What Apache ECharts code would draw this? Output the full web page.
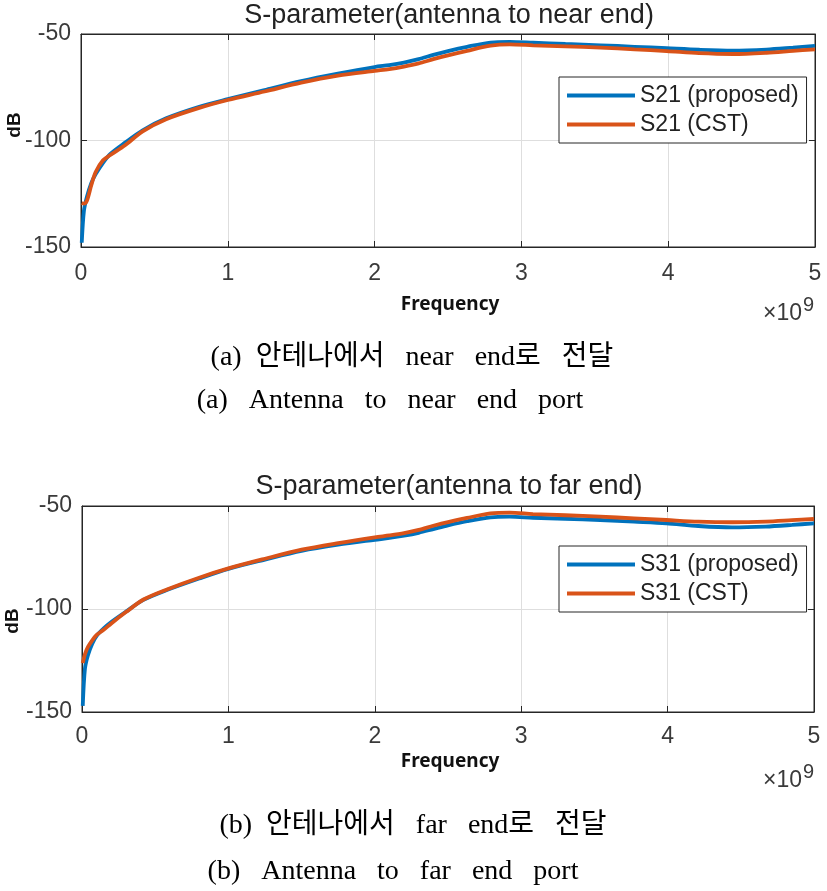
<!DOCTYPE html>
<html>
<head>
<meta charset="utf-8">
<script src="https://cdn.jsdelivr.net/npm/echarts@6/dist/echarts.min.js"></script>
<style>
html,body{margin:0;padding:0;background:#fff;}
#c{width:827px;height:891px;}
</style>
</head>
<body>
<div id="c"></div>
<script>
// Frequency in units of 10^9 Hz
var freq = [0.005, 0.02, 0.04, 0.07, 0.1, 0.15, 0.2, 0.3, 0.42, 0.58, 0.8, 1.0, 1.25, 1.5, 1.75, 2.0, 2.1, 2.2, 2.3, 2.4, 2.5, 2.63, 2.79, 2.92, 3.08, 3.3, 3.54, 3.77, 3.99, 4.21, 4.44, 4.67, 4.85, 5.0];
var s21Proposed = [-148, -133, -126.5, -120, -115.8, -110.5, -106.3, -101, -95.2, -89.6, -84.3, -80.6, -76.3, -72.1, -68.6, -65.5, -64.6, -63.4, -61.8, -59.8, -58, -56, -54, -53.7, -54.1, -54.7, -55.3, -56, -56.7, -57.4, -57.8, -57.3, -56.4, -55.6];
var s21CST = [-129.3, -129.6, -128.3, -121, -114.8, -109.3, -106.8, -102.2, -95.7, -90, -84.8, -81, -77, -72.8, -69.5, -67.3, -66.5, -65.3, -63.8, -61.8, -60, -57.9, -55.5, -54.9, -55.3, -55.8, -56.4, -57.2, -58, -59, -59.4, -58.8, -57.9, -57.2];
var s31Proposed = [-147, -129, -122.5, -116.8, -113, -109.3, -106.3, -101.3, -95.6, -90.8, -85.2, -80.5, -76, -71.8, -68.8, -66.4, -65.5, -64.4, -63, -61.2, -59.4, -57.4, -55.5, -55.2, -55.7, -56.2, -56.8, -57.6, -58.4, -59.7, -60.4, -60, -59.2, -58.4];
var s31CST = [-126.3, -122, -118.5, -115.2, -112.6, -110, -107, -101.5, -95.4, -90.5, -84.8, -80.3, -75.6, -71.2, -68, -65.2, -64.3, -63.2, -61.6, -59.6, -57.8, -55.8, -53.6, -53.2, -53.9, -54.5, -55.2, -56, -56.8, -57.6, -57.9, -57.6, -56.9, -56.3];
var xTicks = [0, 1, 2, 3, 4, 5];
var yTicks = [-150, -100, -50];
var titles = ['S-parameter(antenna to near end)', 'S-parameter(antenna to far end)'];
var legendNames = [['S21 (proposed)', 'S21 (CST)'], ['S31 (proposed)', 'S31 (CST)']];
var captions = [
  ['(a)  안테나에서   near   end로   전달', '(a)   Antenna   to   near   end   port'],
  ['(b)  안테나에서   far   end로   전달', '(b)   Antenna   to   far   end   port']
];

var BLUE = '#0072BD', ORANGE = '#D95319', AX = '#262626';
var SANS = '"Liberation Sans", Arial, sans-serif';
var SERIF = '"Liberation Serif", "Noto Sans CJK KR", serif';

function pairs(xs, ys) { return xs.map(function (x, i) { return [x, ys[i]]; }); }

var grids = [
  { left: 81, top: 34, width: 734, height: 213 },
  { left: 82, top: 506, width: 732, height: 206 }
];
var xAxes = [], yAxes = [], legends = [], series = [];
grids.forEach(function (g, gi) {
  g.show = true; g.borderColor = AX; g.borderWidth = 1; g.backgroundColor = '#fff';
  xAxes.push({
    gridIndex: gi, type: 'value', min: xTicks[0], max: xTicks[xTicks.length - 1], interval: 1,
    position: 'bottom',
    axisLine: { show: true, onZero: false, lineStyle: { color: AX, width: 1 } },
    axisTick: { show: true, inside: true, length: 6, lineStyle: { color: AX } },
    axisLabel: { fontSize: 23, color: '#3a3a3a', fontFamily: SANS, margin: gi === 0 ? 15 : 13 },
    splitLine: { show: true, lineStyle: { color: '#dedede', width: 1 } }
  });
  xAxes.push({
    gridIndex: gi, type: 'value', min: xTicks[0], max: xTicks[xTicks.length - 1], interval: 1,
    position: 'top',
    axisLine: { show: true, onZero: false, lineStyle: { color: AX } },
    axisTick: { show: true, inside: true, length: 6, lineStyle: { color: AX } },
    axisLabel: { show: false }, splitLine: { show: false }
  });
  yAxes.push({
    gridIndex: gi, type: 'value', min: yTicks[0], max: yTicks[yTicks.length - 1], interval: 50,
    position: 'left',
    axisLine: { show: true, onZero: false, lineStyle: { color: AX } },
    axisTick: { show: true, inside: true, length: 6, lineStyle: { color: AX } },
    axisLabel: { fontSize: 23, color: '#3a3a3a', fontFamily: SANS, margin: 10 },
    splitLine: { show: true, lineStyle: { color: '#dedede', width: 1 } }
  });
  yAxes.push({
    gridIndex: gi, type: 'value', min: yTicks[0], max: yTicks[yTicks.length - 1], interval: 50,
    position: 'right',
    axisLine: { show: true, onZero: false, lineStyle: { color: AX } },
    axisTick: { show: true, inside: true, length: 6, lineStyle: { color: AX } },
    axisLabel: { show: false }, splitLine: { show: false }
  });
});

var dataSets = [[s21Proposed, s21CST], [s31Proposed, s31CST]];
dataSets.forEach(function (pair, gi) {
  [BLUE, ORANGE].forEach(function (col, si) {
    series.push({
      name: legendNames[gi][si], type: 'line', xAxisIndex: gi * 2, yAxisIndex: gi * 2,
      data: pairs(freq, pair[si]), showSymbol: false, smooth: 0.3,
      lineStyle: { color: col, width: 3.8 }, itemStyle: { color: col }, z: 3 + si
    });
  });
});

var legendTops = [77, 546];
legendNames.forEach(function (names, gi) {
  legends.push({
    data: names, orient: 'vertical', left: 559, top: legendTops[gi],
    padding: [7, 8, 7, 8], itemGap: 6, itemWidth: 68, itemHeight: 4, icon: 'rect',
    borderColor: AX, borderWidth: 1, backgroundColor: '#fff', selectedMode: false,
    textStyle: { fontSize: 23, color: '#222', fontFamily: SANS }
  });
});

var graphics = [];
var dy = [0, 467];
[0, 1].forEach(function (gi) {
  var o = dy[gi];
  graphics.push({ type: 'text', x: 449, y: (gi === 0 ? 16 : 487), style: { text: titles[gi], font: '27px ' + SANS, fill: '#222', textAlign: 'center', textVerticalAlign: 'middle' } });
  graphics.push({ type: 'text', x: gi === 0 ? 15 : 13, y: gi === 0 ? 125 : 621, rotation: Math.PI / 2, style: { text: 'dB', font: 'bold 19px ' + SANS, fill: '#111', textAlign: 'center', textVerticalAlign: 'middle' } });
  graphics.push({ type: 'text', x: 450, y: (gi === 0 ? 305 : 762), style: { text: 'Frequency', font: 'bold 19px "Noto Sans", ' + SANS, fill: '#111', textAlign: 'center', textVerticalAlign: 'middle' } });
  graphics.push({ type: 'text', x: 802, y: 314 + o, style: { text: '×10', font: '23px ' + SANS, fill: '#3a3a3a', textAlign: 'right', textVerticalAlign: 'middle' } });
  graphics.push({ type: 'text', x: 803, y: 305 + o, style: { text: '9', font: '20px ' + SANS, fill: '#3a3a3a', textAlign: 'left', textVerticalAlign: 'middle' } });
});
var capY = [[358, 401], [826, 872]];
captions.forEach(function (c, gi) {
  c.forEach(function (t, li) {
    graphics.push({ type: 'text', x: gi === 0 ? (li === 0 ? 412 : 390) : (li === 0 ? 413 : 393), y: capY[gi][li], style: { text: t, font: '28px ' + SERIF, fill: '#000', textAlign: 'center', textVerticalAlign: 'middle' } });
  });
});

var chart = echarts.init(document.getElementById('c'));
chart.setOption({
  animation: false,
  backgroundColor: '#fff',
  grid: grids, xAxis: xAxes, yAxis: yAxes, legend: legends, series: series,
  graphic: graphics
});
</script>
</body>
</html>
